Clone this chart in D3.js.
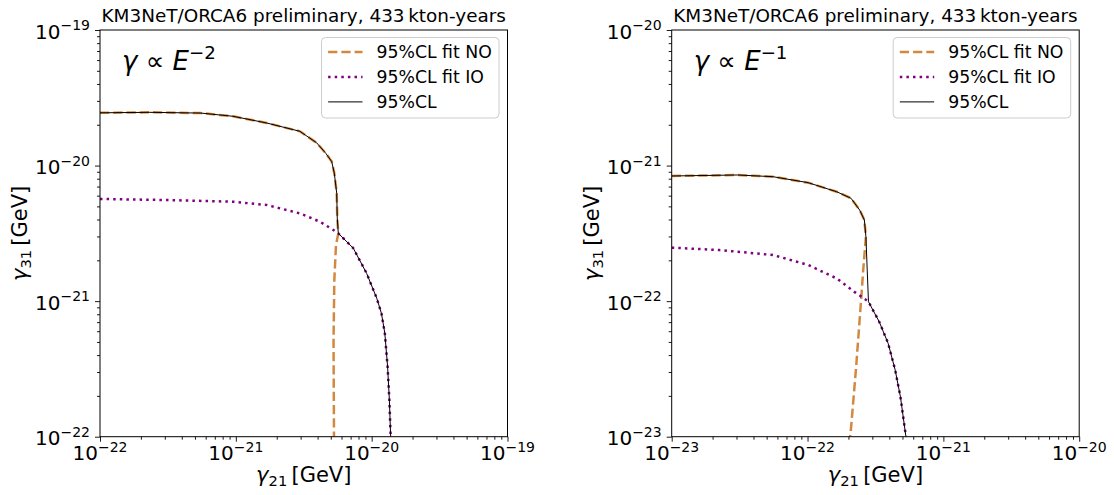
<!DOCTYPE html>
<html>
<head>
<meta charset="utf-8">
<script src="https://cdn.jsdelivr.net/npm/d3@7"></script>
<style>
  body { margin: 0; background: #fff; }
  svg { font-family: "DejaVu Sans", sans-serif; }
</style>
</head>
<body>
<svg id="chart" width="1114" height="495"></svg>
<script>
// gamma ∝ E^-2 panel: [gamma21, gamma31] in GeV
const e2NO = [
  [1e-22, 2.45e-20], [2.33e-22, 2.47e-20], [5.5e-22, 2.44e-20], [9.53e-22, 2.31e-20],
  [1.69e-21, 2.06e-20], [2.96e-21, 1.79e-20], [3.94e-21, 1.47e-20], [4.6e-21, 1.23e-20],
  [5.08e-21, 1.07e-20], [5.31e-21, 8.77e-21], [5.53e-21, 6.24e-21], [5.58e-21, 4.10e-21],
  [5.68e-21, 3.16e-21], [5.46e-21, 2.59e-21], [5.31e-21, 1.43e-21], [5.24e-21, 5.17e-22],
  [5.28e-21, 1e-22]
];
const e2IO = [
  [1e-22, 5.67e-21], [3.10e-22, 5.57e-21], [9.57e-22, 5.41e-21], [1.69e-21, 5.12e-21],
  [2.96e-21, 4.44e-21], [4.17e-21, 3.85e-21], [5.22e-21, 3.35e-21], [5.68e-21, 3.16e-21],
  [6.18e-21, 2.91e-21], [7.32e-21, 2.46e-21], [9.19e-21, 1.60e-21], [1.09e-20, 1.05e-21],
  [1.18e-20, 8.13e-22], [1.25e-20, 5.79e-22], [1.31e-20, 3.28e-22], [1.35e-20, 1.87e-22],
  [1.38e-20, 1e-22]
];
const e2CL = [
  [1e-22, 2.45e-20], [2.33e-22, 2.47e-20], [5.5e-22, 2.44e-20], [9.53e-22, 2.31e-20],
  [1.69e-21, 2.06e-20], [2.96e-21, 1.79e-20], [3.94e-21, 1.47e-20], [4.6e-21, 1.23e-20],
  [5.08e-21, 1.07e-20], [5.31e-21, 8.77e-21], [5.53e-21, 6.24e-21], [5.58e-21, 4.10e-21],
  [5.68e-21, 3.16e-21], [6.18e-21, 2.91e-21], [7.32e-21, 2.46e-21], [9.19e-21, 1.60e-21],
  [1.09e-20, 1.05e-21], [1.18e-20, 8.13e-22], [1.25e-20, 5.79e-22], [1.31e-20, 3.28e-22],
  [1.35e-20, 1.87e-22], [1.38e-20, 1e-22]
];

// gamma ∝ E^-1 panel
const e1NO = [
  [1e-23, 8.38e-22], [3.04e-23, 8.52e-22], [5.56e-23, 8.28e-22], [1.01e-22, 7.48e-22],
  [1.64e-22, 6.41e-22], [2.09e-22, 5.74e-22], [2.42e-22, 4.70e-22], [2.62e-22, 3.97e-22],
  [2.69e-22, 2.99e-22], [2.57e-22, 1.70e-22], [2.49e-22, 1.08e-22], [2.28e-22, 3.28e-23],
  [2.08e-22, 1.09e-23], [2.06e-22, 1e-23]
];
const e1IO = [
  [1e-23, 2.48e-22], [2.25e-23, 2.38e-22], [5.56e-23, 2.19e-22], [1.01e-22, 1.85e-22],
  [1.64e-22, 1.47e-22], [2.21e-22, 1.17e-22], [2.49e-22, 1.08e-22], [2.81e-22, 9.9e-23],
  [3.37e-22, 7.05e-23], [3.92e-22, 4.89e-23], [4.42e-22, 3.10e-23], [4.83e-22, 1.97e-23],
  [5.28e-22, 1.03e-23], [5.32e-22, 1e-23]
];
const e1CL = [
  [1e-23, 8.38e-22], [3.04e-23, 8.52e-22], [5.56e-23, 8.28e-22], [1.01e-22, 7.48e-22],
  [1.64e-22, 6.41e-22], [2.09e-22, 5.74e-22], [2.42e-22, 4.70e-22], [2.62e-22, 3.97e-22],
  [2.69e-22, 2.99e-22], [2.75e-22, 1.70e-22], [2.81e-22, 9.9e-23], [3.37e-22, 7.05e-23],
  [3.92e-22, 4.89e-23], [4.42e-22, 3.10e-23], [4.83e-22, 1.97e-23], [5.28e-22, 1.03e-23],
  [5.32e-22, 1e-23]
];

const e2Exp = [-22, -19];   // decade range, both axes
const e1Exp = [-23, -20];
const legendLabels = ["95%CL fit NO", "95%CL fit IO", "95%CL"];
const titleText = "KM3NeT/ORCA6 preliminary, 433\u2009kton-years";

const ORANGE = "#d4883f", PURPLE = "#800080";

const svg = d3.select("#chart");
const plotTop = 30, plotBottom = 436.7, pw = 407.5;

const panels = [
  { x0: 100, exp: e2Exp, NO: e2NO, IO: e2IO, CL: e2CL, power: "2" },
  { x0: 671.7, exp: e1Exp, NO: e1NO, IO: e1IO, CL: e1CL, power: "1" }
];

function decadeLabel(sel, e) {
  sel.append("tspan").text("10");
  sel.append("tspan").attr("font-size", 14).attr("dy", -8.5).text("\u2212" + Math.abs(e));
}

panels.forEach(p => {
  const lo = Math.pow(10, p.exp[0]), hi = Math.pow(10, p.exp[1]);
  const x = d3.scaleLog().domain([lo, hi]).range([p.x0, p.x0 + pw]);
  const y = d3.scaleLog().domain([lo, hi]).range([plotBottom, plotTop]);
  const g = svg.append("g");

  const majors = d3.range(p.exp[0], p.exp[1] + 1).map(e => Math.pow(10, e));
  const minors = [];
  d3.range(p.exp[0], p.exp[1]).forEach(e => {
    for (let k = 2; k <= 9; k++) minors.push(k * Math.pow(10, e));
  });

  // ticks via d3 axes
  const addAxis = (axis, tr) => {
    const a = g.append("g").attr("transform", tr).call(axis);
    a.select(".domain").remove();
    a.selectAll("line").attr("stroke", "#000").attr("stroke-width", 0.9);
  };
  addAxis(d3.axisBottom(x).tickValues(majors).tickSize(5).tickFormat(""), `translate(0,${plotBottom})`);
  addAxis(d3.axisBottom(x).tickValues(minors).tickSize(3).tickFormat(""), `translate(0,${plotBottom})`);
  addAxis(d3.axisLeft(y).tickValues(majors).tickSize(5).tickFormat(""), `translate(${p.x0},0)`);
  addAxis(d3.axisLeft(y).tickValues(minors).tickSize(3).tickFormat(""), `translate(${p.x0},0)`);

  // tick labels
  majors.forEach((v, i) => {
    const e = p.exp[0] + i;
    g.append("text").attr("x", x(v)).attr("y", plotBottom + 23.5)
      .attr("text-anchor", "middle").attr("font-size", 20).call(decadeLabel, e);
    g.append("text").attr("x", p.x0 - 10).attr("y", y(v) + 8.5)
      .attr("text-anchor", "end").attr("font-size", 20).call(decadeLabel, e);
  });

  // curves
  const line = d3.line().x(d => x(d[0])).y(d => y(d[1]));
  const clip = "clip" + p.power;
  g.append("clipPath").attr("id", clip).append("rect")
    .attr("x", p.x0).attr("y", plotTop).attr("width", pw).attr("height", plotBottom - plotTop);
  const curves = g.append("g").attr("clip-path", `url(#${clip})`);
  curves.append("path").datum(p.NO).attr("d", line).attr("fill", "none")
    .attr("stroke", ORANGE).attr("stroke-width", 2.5).attr("stroke-dasharray", "9.25,4");
  curves.append("path").datum(p.IO).attr("d", line).attr("fill", "none")
    .attr("stroke", PURPLE).attr("stroke-width", 2.5).attr("stroke-dasharray", "2.5,4.1");
  curves.append("path").datum(p.CL).attr("d", line).attr("fill", "none")
    .attr("stroke", "#000").attr("stroke-width", 1);

  // frame
  g.append("rect").attr("x", p.x0).attr("y", plotTop).attr("width", pw).attr("height", plotBottom - plotTop)
    .attr("fill", "none").attr("stroke", "#000").attr("stroke-width", 1);

  // title
  g.append("text").attr("x", p.x0 + pw / 2).attr("y", 21.5).attr("text-anchor", "middle")
    .attr("font-size", 18.4).text(titleText);

  // axis labels
  const xl = g.append("text").attr("x", p.x0 + pw / 2).attr("y", 482)
    .attr("text-anchor", "middle").attr("font-size", 21);
  xl.append("tspan").attr("font-style", "italic").text("γ");
  xl.append("tspan").attr("font-size", 14.7).attr("dy", 4).text("21");
  xl.append("tspan").attr("dy", -4).text("\u2009[GeV]");

  const yl = g.append("text").attr("transform", `translate(${p.x0 - 73},${(plotTop + plotBottom) / 2}) rotate(-90)`)
    .attr("text-anchor", "middle").attr("font-size", 21);
  yl.append("tspan").attr("font-style", "italic").text("γ");
  yl.append("tspan").attr("font-size", 14.7).attr("dy", 4).text("31");
  yl.append("tspan").attr("dy", -4).text("\u2009[GeV]");

  // annotation
  const an = g.append("text").attr("x", p.x0 + 22).attr("y", 70).attr("font-size", 26);
  an.append("tspan").attr("font-style", "italic").text("γ");
  an.append("tspan").text(" \u221d ");
  an.append("tspan").attr("font-style", "italic").text("E");
  an.append("tspan").attr("font-size", 18.2).attr("dy", -11).text("\u2212" + p.power);

  // legend
  const lx = p.x0 + pw - 8.5 - 177.5, ly = 37.5;
  const lg = g.append("g");
  lg.append("rect").attr("x", lx).attr("y", ly).attr("width", 177.5).attr("height", 80.5)
    .attr("rx", 4).attr("fill", "#fff").attr("fill-opacity", 0.8)
    .attr("stroke", "#cccccc").attr("stroke-width", 1);
  const styles = [
    { c: ORANGE, w: 2.5, dash: "9.25,4" },
    { c: PURPLE, w: 2.5, dash: "2.5,4.1" },
    { c: "#000", w: 1, dash: null }
  ];
  legendLabels.forEach((t, i) => {
    const ry = ly + 14.4 + i * 25;
    lg.append("line").attr("x1", lx + 6.6).attr("x2", lx + 41).attr("y1", ry).attr("y2", ry)
      .attr("stroke", styles[i].c).attr("stroke-width", styles[i].w)
      .attr("stroke-dasharray", styles[i].dash);
    lg.append("text").attr("x", lx + 55).attr("y", ry + 6.2).attr("font-size", 17.3).text(t);
  });
});
</script>
</body>
</html>
